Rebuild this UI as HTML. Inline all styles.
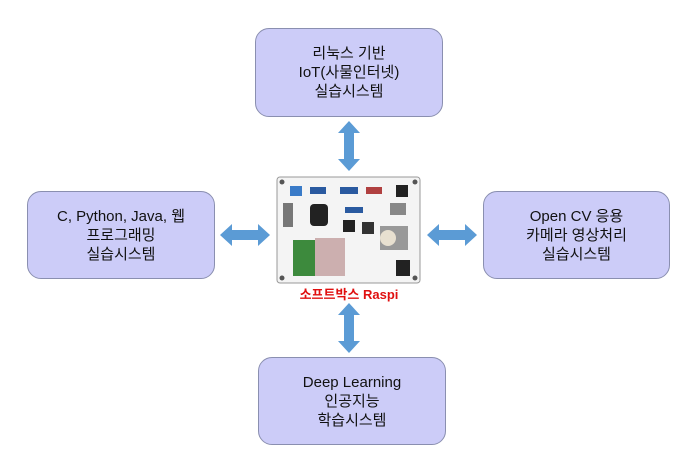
<!DOCTYPE html>
<html><head><meta charset="utf-8"><style>
body{margin:0;background:#fff;width:700px;height:471px;position:relative;overflow:hidden;font-family:"Liberation Sans","Noto Sans CJK KR",sans-serif}
.b{position:absolute;background:#ccccf8;border:1px solid #8a8fb0;border-radius:14px;display:flex;align-items:center;justify-content:center;text-align:center;font-size:15px;line-height:19px;color:#111}
.lbl{position:absolute;left:279px;width:140px;top:284px;text-align:center;color:#e01010;font-weight:bold;font-size:13px}
</style></head><body>
<div class="b" style="left:255px;top:28px;width:186px;height:87px">리눅스 기반<br>IoT(사물인터넷)<br>실습시스템</div>
<div class="b" style="left:27px;top:191px;width:186px;height:86px">C, Python, Java, 웹<br>프로그래밍<br>실습시스템</div>
<div class="b" style="left:483px;top:191px;width:185px;height:86px">Open CV 응용<br>카메라 영상처리<br>실습시스템</div>
<div class="b" style="left:258px;top:357px;width:186px;height:86px">Deep Learning<br>인공지능<br>학습시스템</div>
<svg width="700" height="471" style="position:absolute;left:0;top:0">
<g fill="#5b9bd5">
<polygon points="349,121 360,133 354,133 354,159 360,159 349,171 338,159 344,159 344,133 338,133"/>
<polygon points="349,303 360,315 354,315 354,341 360,341 349,353 338,341 344,341 344,315 338,315"/>
<polygon points="220,235 232,224 232,230 258,230 258,224 270,235 258,246 258,240 232,240 232,246"/>
<polygon points="427,235 439,224 439,230 465,230 465,224 477,235 465,246 465,240 439,240 439,246"/>
</g>
<rect x="277" y="177" width="143" height="106" rx="3" fill="#f4f4f4" stroke="#999"/>
<g fill="#555"><circle cx="282" cy="182" r="2.5"/><circle cx="415" cy="182" r="2.5"/><circle cx="282" cy="278" r="2.5"/><circle cx="415" cy="278" r="2.5"/></g>
<rect x="290" y="186" width="12" height="10" fill="#3a7bc8"/>
<rect x="310" y="187" width="16" height="7" fill="#2a5aa0"/>
<rect x="340" y="187" width="18" height="7" fill="#2a5aa0"/>
<rect x="366" y="187" width="16" height="7" fill="#b04040"/>
<rect x="396" y="185" width="12" height="12" fill="#222"/>
<rect x="283" y="203" width="10" height="24" fill="#777"/>
<rect x="310" y="204" width="18" height="22" rx="4" fill="#222"/>
<rect x="345" y="207" width="18" height="6" fill="#2a5aa0"/>
<rect x="390" y="203" width="16" height="12" fill="#888"/>
<rect x="343" y="220" width="12" height="12" fill="#222"/>
<rect x="362" y="222" width="12" height="12" fill="#333"/>
<rect x="380" y="226" width="28" height="24" fill="#999"/>
<circle cx="388" cy="238" r="8" fill="#e8e0d0"/>
<rect x="293" y="240" width="22" height="36" fill="#3d8a3d"/>
<rect x="315" y="238" width="30" height="38" fill="#b08080" opacity=".6"/>
<rect x="396" y="260" width="14" height="16" fill="#222"/>
</svg>
<div class="lbl">소프트박스 Raspi</div>
</body></html>
